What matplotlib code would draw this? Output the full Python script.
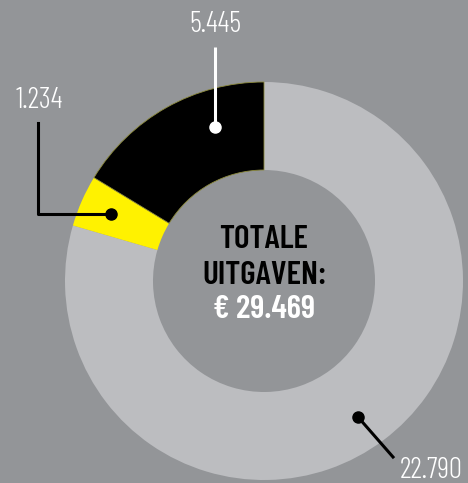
import matplotlib
matplotlib.use("Agg")
import matplotlib.pyplot as plt

# data
labels = ["22.790", "1.234", "5.445"]
values = [22790, 1234, 5445]
# slice sizes as drawn in the picture (degrees)
slice_deg = [286.2, 15.1, 58.7]
colors = ["#bcbdc0", "#fff200", "#000000"]
total_label = ["TOTALE", "UITGAVEN:", "€ 29.469"]

bg = "#939598"
W, H = 468, 483
fig = plt.figure(figsize=(W / 100, H / 100), dpi=100, facecolor=bg)
ax = fig.add_axes([0, 0, 1, 1], facecolor=bg)

cx, cy, R, r_in = 264, H - 281, 199, 111
wedges, _ = ax.pie(slice_deg, colors=colors, startangle=90, counterclock=False,
                   center=(cx, cy), radius=R, frame=True,
                   wedgeprops=dict(width=R - r_in, linewidth=0))
wedges[2].set_edgecolor("#8c8a3c")
wedges[2].set_linewidth(0.6)
ax.set_xlim(0, W)
ax.set_ylim(0, H)
ax.set_aspect("equal")
ax.axis("off")

fams = ["Barlow Condensed", "DejaVu Sans"]
num_font = dict(family=fams, weight=300, fontsize=21,
                color="white", ha="center", va="center")

# 5.445 leader (white)
ax.plot([215, 215], [H - 47, H - 127], color="white", lw=2.2, solid_capstyle="butt")
ax.plot(215, H - 127, "o", color="white", ms=8)
ax.text(215, H - 25, labels[2], **num_font)

# 1.234 leader (black)
ax.plot([38, 38, 111], [H - 123, H - 214, H - 214], color="black", lw=2.2)
ax.plot(111, H - 214, "o", color="black", ms=8)
ax.text(39, H - 101, labels[1], **num_font)

# 22.790 leader (black)
ax.plot([358, 393], [H - 417, H - 457], color="black", lw=2.2)
ax.plot(358, H - 417, "o", color="black", ms=8)
ax.text(431, H - 471, labels[0], **num_font)

ctr_font = dict(family=fams, weight=600, fontsize=24, ha="center", va="center")
ax.text(cx, H - 240, total_label[0], color="black", **ctr_font)
ax.text(cx, H - 275, total_label[1], color="black", **ctr_font)
ax.text(cx, H - 310, total_label[2], color="white", **ctr_font)

fig.savefig("out.png", dpi=100, facecolor=bg)
